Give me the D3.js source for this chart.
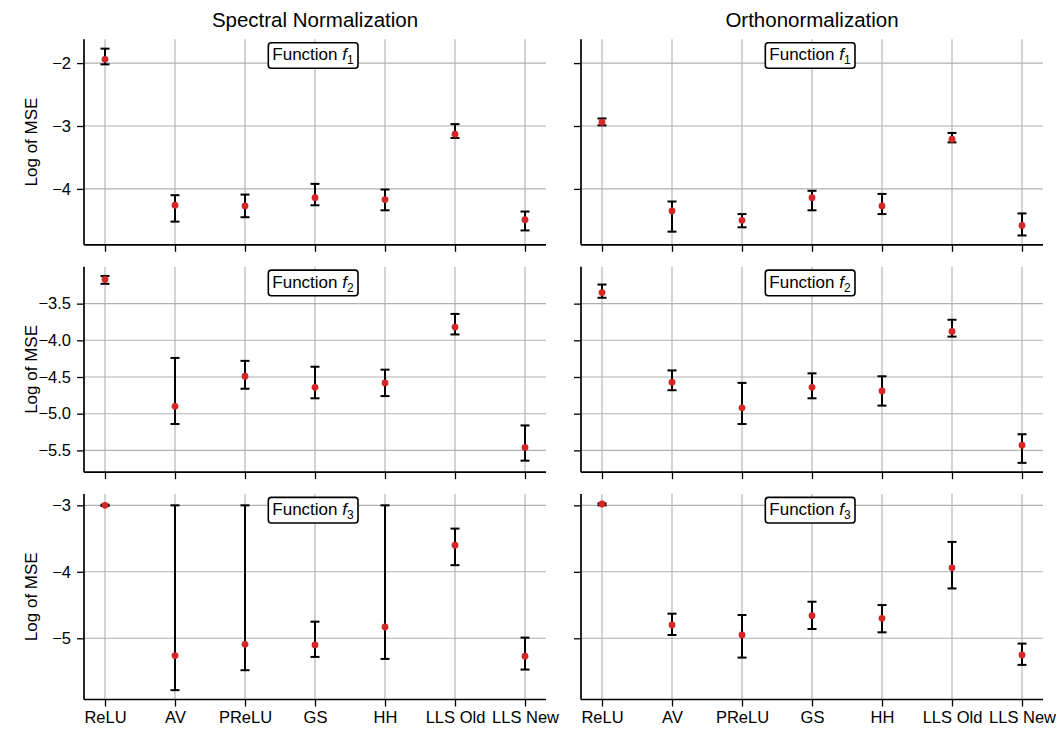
<!DOCTYPE html>
<html>
<head>
<meta charset="utf-8">
<script src="https://cdn.jsdelivr.net/npm/d3@7"></script>
<style>
  html, body { margin: 0; padding: 0; background: #fff; }
  svg { display: block; }
  text { font-family: "Liberation Sans", Arial, Helvetica, sans-serif; fill: #000; }
</style>
</head>
<body>
<svg id="chart" width="1058" height="731"></svg>
<script>
// ---- data ----
const categories = ["ReLU", "AV", "PReLU", "GS", "HH", "LLS Old", "LLS New"];
const columnTitles = ["Spectral Normalization", "Orthonormalization"];
const functionLabels = ["1", "2", "3"];

// Spectral Normalization
const snF1Mean = [-1.94, -4.26, -4.27, -4.14, -4.17, -3.13, -4.49];
const snF1Lo   = [-2.02, -4.52, -4.45, -4.26, -4.34, -3.19, -4.66];
const snF1Hi   = [-1.77, -4.10, -4.09, -3.92, -4.01, -2.97, -4.36];

const snF2Mean = [-3.17, -4.90, -4.49, -4.64, -4.58, -3.82, -5.46];
const snF2Lo   = [-3.23, -5.14, -4.66, -4.79, -4.76, -3.92, -5.64];
const snF2Hi   = [-3.124, -4.24, -4.28, -4.36, -4.40, -3.64, -5.16];

const snF3Mean = [-3.00, -5.26, -5.09, -5.10, -4.83, -3.60, -5.27];
const snF3Lo   = [-3.01, -5.78, -5.48, -5.28, -5.31, -3.90, -5.47];
const snF3Hi   = [-2.99, -3.00, -3.00, -4.75, -3.00, -3.35, -4.99];

// Orthonormalization
const onF1Mean = [-2.94, -4.35, -4.50, -4.14, -4.27, -3.21, -4.58];
const onF1Lo   = [-2.99, -4.68, -4.61, -4.34, -4.40, -3.26, -4.74];
const onF1Hi   = [-2.88, -4.20, -4.40, -4.03, -4.08, -3.11, -4.39];

const onF2Mean = [-3.35, -4.57, -4.92, -4.64, -4.69, -3.88, -5.43];
const onF2Lo   = [-3.42, -4.68, -5.14, -4.79, -4.89, -3.95, -5.67];
const onF2Hi   = [-3.24, -4.41, -4.58, -4.45, -4.49, -3.72, -5.28];

const onF3Mean = [-2.98, -4.80, -4.95, -4.66, -4.70, -3.94, -5.25];
const onF3Lo   = [-3.00, -4.95, -5.29, -4.86, -4.91, -4.25, -5.40];
const onF3Hi   = [-2.97, -4.63, -4.65, -4.45, -4.50, -3.55, -5.08];

const rowTicks = [
  [-2, -3, -4],
  [-3.5, -4.0, -4.5, -5.0, -5.5],
  [-3, -4, -5]
];
const rowTickLabels = [
  ["\u22122", "\u22123", "\u22124"],
  ["\u22123.5", "\u22124.0", "\u22124.5", "\u22125.0", "\u22125.5"],
  ["\u22123", "\u22124", "\u22125"]
];
const yLabel = "Log of MSE";

const panels = [
  [{mean: snF1Mean, lo: snF1Lo, hi: snF1Hi}, {mean: onF1Mean, lo: onF1Lo, hi: onF1Hi}],
  [{mean: snF2Mean, lo: snF2Lo, hi: snF2Hi}, {mean: onF2Mean, lo: onF2Lo, hi: onF2Hi}],
  [{mean: snF3Mean, lo: snF3Lo, hi: snF3Hi}, {mean: onF3Mean, lo: onF3Lo, hi: onF3Hi}]
];

// ---- layout ----
const colLeft = [84, 581];
const colWidth = 462;
const rowTop = [39.3, 266.7, 494];
const rowHeight = 205.5;
const font = "Liberation Sans, Arial, Helvetica, sans-serif";

const svg = d3.select("#chart");

const x = d3.scaleLinear().domain([-0.3, categories.length - 1 + 0.3]).range([0, colWidth]);

rowTop.forEach((top, r) => {
  // shared y domain per row, with 5% padding like matplotlib
  const all = [];
  panels[r].forEach(p => { all.push(...p.lo, ...p.hi); });
  const [mn, mx] = d3.extent(all);
  const pad = (mx - mn) * 0.05;
  const y = d3.scaleLinear().domain([mn - pad, mx + pad]).range([rowHeight, 0]);

  colLeft.forEach((left, c) => {
    const p = panels[r][c];
    const g = svg.append("g").attr("transform", `translate(${left},${top})`);

    // grid
    g.append("g").selectAll("line.vg").data(categories).join("line")
      .attr("x1", (d, i) => x(i)).attr("x2", (d, i) => x(i))
      .attr("y1", 0).attr("y2", rowHeight)
      .attr("stroke", "#b0b0b0").attr("stroke-width", 1.1);
    g.append("g").selectAll("line.hg").data(rowTicks[r]).join("line")
      .attr("x1", 0).attr("x2", colWidth)
      .attr("y1", d => y(d)).attr("y2", d => y(d))
      .attr("stroke", "#b0b0b0").attr("stroke-width", 1.1);

    // axes
    const xAxis = d3.axisBottom(x).tickValues(d3.range(categories.length))
      .tickSize(7).tickPadding(5)
      .tickFormat((d) => r === 2 ? categories[d] : "");
    const gx = g.append("g").attr("transform", `translate(0,${rowHeight})`).call(xAxis);
    const yAxis = d3.axisLeft(y).tickValues(rowTicks[r]).tickSize(7).tickPadding(6)
      .tickFormat((d, i) => c === 0 ? rowTickLabels[r][i] : "");
    const gy = g.append("g").call(yAxis);
    [gx, gy].forEach(a => {
      a.select(".domain").remove();
      a.selectAll(".tick line").attr("stroke", "#000").attr("stroke-width", 1.3);
      a.selectAll(".tick text").attr("font-family", font).attr("font-size", 16.5).attr("fill", "#000");
    });
    // spines
    g.append("line").attr("x1", 0).attr("x2", 0).attr("y1", 0).attr("y2", rowHeight)
      .attr("stroke", "#000").attr("stroke-width", 1.7);
    g.append("line").attr("x1", 0).attr("x2", colWidth).attr("y1", rowHeight).attr("y2", rowHeight)
      .attr("stroke", "#000").attr("stroke-width", 1.7);

    // error bars
    const idx = d3.range(categories.length);
    const eb = g.append("g");
    eb.selectAll("line.bar").data(idx).join("line")
      .attr("x1", i => x(i)).attr("x2", i => x(i))
      .attr("y1", i => y(p.lo[i])).attr("y2", i => y(p.hi[i]))
      .attr("stroke", "#000").attr("stroke-width", 2);
    eb.selectAll("line.caplo").data(idx).join("line")
      .attr("x1", i => x(i) - 4.5).attr("x2", i => x(i) + 4.5)
      .attr("y1", i => y(p.lo[i])).attr("y2", i => y(p.lo[i]))
      .attr("stroke", "#000").attr("stroke-width", 2);
    eb.selectAll("line.caphi").data(idx).join("line")
      .attr("x1", i => x(i) - 4.5).attr("x2", i => x(i) + 4.5)
      .attr("y1", i => y(p.hi[i])).attr("y2", i => y(p.hi[i]))
      .attr("stroke", "#000").attr("stroke-width", 2);
    // points
    g.append("g").selectAll("circle").data(idx).join("circle")
      .attr("cx", i => x(i)).attr("cy", i => y(p.mean[i]))
      .attr("r", 3.4).attr("fill", "#d62728");

    // function label box
    const lab = g.append("g");
    const t = lab.append("text").attr("font-family", font).attr("font-size", 17)
      .attr("text-anchor", "middle").attr("x", colWidth / 2 - 2).attr("y", 21);
    t.append("tspan").text("Function ");
    t.append("tspan").attr("font-style", "italic").text("f");
    t.append("tspan").attr("font-size", 12).attr("dy", 4).text(functionLabels[r]);
    const bb = t.node().getBBox();
    lab.insert("rect", "text")
      .attr("x", bb.x - 4).attr("y", 3.4).attr("width", bb.width + 8).attr("height", 25.6)
      .attr("rx", 3).attr("fill", "#fff").attr("stroke", "#000").attr("stroke-width", 1.6);

    if (c === 0) {
      svg.append("text").attr("font-family", font).attr("font-size", 17)
        .attr("text-anchor", "middle")
        .attr("transform", `translate(36.5,${top + rowHeight / 2}) rotate(-90)`)
        .text(yLabel);
    }
  });
});

// column titles
colLeft.forEach((left, c) => {
  svg.append("text").attr("font-family", font).attr("font-size", 20.5)
    .attr("text-anchor", "middle").attr("x", left + colWidth / 2).attr("y", 26.5)
    .text(columnTitles[c]);
});
</script>
</body>
</html>
